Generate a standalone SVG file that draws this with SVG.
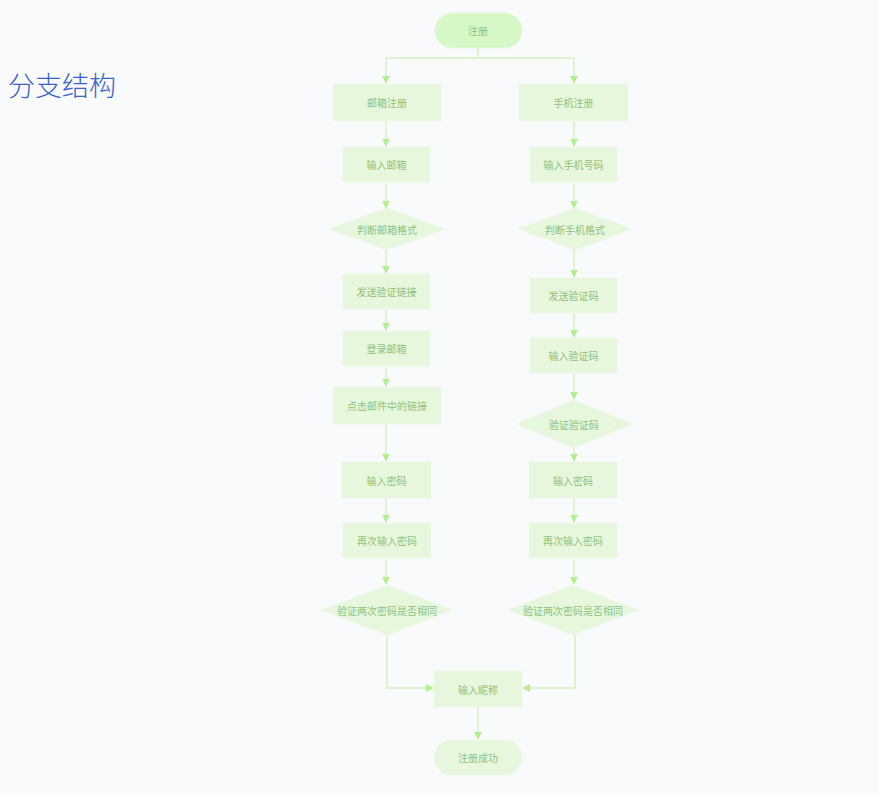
<svg xmlns="http://www.w3.org/2000/svg" width="879" height="793" viewBox="0 0 879 793">
<defs>
<style>
.bg{fill:#f9fafb}
.term{fill:#d6f7c6;stroke:#e6f8dc;stroke-width:1}
.box{fill:#e6f7dd;stroke:#eef9e8;stroke-width:1}
.dia{fill:#e6f7dd;stroke:#eef9e8;stroke-width:1}
.t{font-family:"Noto Sans CJK SC","Noto Sans",sans-serif;font-size:10px;fill:#92c27a;text-anchor:middle;dominant-baseline:central}
.c{fill:none;stroke:#d4f0c4;stroke-width:1.5}
.title{font-family:"Noto Sans CJK SC","Noto Sans",sans-serif;font-size:27px;font-weight:300;fill:#3a63cb}
</style>
<marker id="ah" viewBox="0 0 10 10" refX="9" refY="5" markerWidth="8" markerHeight="8" orient="auto" markerUnits="userSpaceOnUse">
<path d="M0,0 L10,5 L0,10 z" fill="#b4ee90"/>
</marker>
</defs>
<rect class="bg" x="0" y="0" width="879" height="793"/>
<text class="title" x="8" y="96">分支结构</text>

<g id="connectors">
<path class="c" d="M478,48 V58 H386 V83" marker-end="url(#ah)"/>
<path class="c" d="M478,58 H574 V83" marker-end="url(#ah)"/>
<path class="c" d="M386,121 V146" marker-end="url(#ah)"/>
<path class="c" d="M574,121 V146" marker-end="url(#ah)"/>
<path class="c" d="M386,182 V208" marker-end="url(#ah)"/>
<path class="c" d="M574,182 V208" marker-end="url(#ah)"/>
<path class="c" d="M386,250 V273" marker-end="url(#ah)"/>
<path class="c" d="M574,250 V277" marker-end="url(#ah)"/>
<path class="c" d="M386,309 V330" marker-end="url(#ah)"/>
<path class="c" d="M574,313 V337" marker-end="url(#ah)"/>
<path class="c" d="M386,366 V386" marker-end="url(#ah)"/>
<path class="c" d="M574,373 V399" marker-end="url(#ah)"/>
<path class="c" d="M386,424 V461" marker-end="url(#ah)"/>
<path class="c" d="M574,448 V461" marker-end="url(#ah)"/>
<path class="c" d="M386,498 V522" marker-end="url(#ah)"/>
<path class="c" d="M574,498 V522" marker-end="url(#ah)"/>
<path class="c" d="M386,558 V584" marker-end="url(#ah)"/>
<path class="c" d="M574,558 V584" marker-end="url(#ah)"/>
<path class="c" d="M387,635 V688 H433" marker-end="url(#ah)"/>
<path class="c" d="M575,635 V688 H523" marker-end="url(#ah)"/>
<path class="c" d="M478,707 V739" marker-end="url(#ah)"/>
</g>

<g id="n-start"><rect class="term" x="435" y="13" width="87" height="35" rx="17.5"/><text class="t" x="478" y="30.5">注册</text></g>

<g id="n-email-reg"><rect class="box" x="333" y="84" width="108" height="37"/><text class="t" x="387" y="102.5">邮箱注册</text></g>
<g id="n-phone-reg"><rect class="box" x="519" y="84" width="109" height="37"/><text class="t" x="573.5" y="102.5">手机注册</text></g>

<g id="n-input-email"><rect class="box" x="343" y="147" width="87" height="35"/><text class="t" x="386.5" y="164.5">输入邮箱</text></g>
<g id="n-input-phone"><rect class="box" x="530" y="147" width="87" height="35"/><text class="t" x="573.5" y="164.5">输入手机号码</text></g>

<g id="n-check-email"><polygon class="dia" points="387,208 445,229 387,250 329,229"/><text class="t" x="387" y="229">判断邮箱格式</text></g>
<g id="n-check-phone"><polygon class="dia" points="575,208 632,229 575,250 518,229"/><text class="t" x="575" y="229">判断手机格式</text></g>

<g id="n-send-link"><rect class="box" x="343" y="274" width="87" height="35"/><text class="t" x="386.5" y="291.5">发送验证链接</text></g>
<g id="n-send-code"><rect class="box" x="530" y="278" width="87" height="35"/><text class="t" x="573.5" y="295.5">发送验证码</text></g>

<g id="n-login-email"><rect class="box" x="343" y="331" width="87" height="35"/><text class="t" x="386.5" y="348.5">登录邮箱</text></g>
<g id="n-input-code"><rect class="box" x="530" y="338" width="87" height="35"/><text class="t" x="573.5" y="355.5">输入验证码</text></g>

<g id="n-click-link"><rect class="box" x="333" y="387" width="108" height="37"/><text class="t" x="387" y="405.5">点击邮件中的链接</text></g>
<g id="n-verify-code"><polygon class="dia" points="574,400 632,424 574,448 516,424"/><text class="t" x="574" y="424">验证验证码</text></g>

<g id="n-pwd-l"><rect class="box" x="342" y="462" width="89" height="36"/><text class="t" x="386.5" y="480">输入密码</text></g>
<g id="n-pwd-r"><rect class="box" x="529" y="462" width="88" height="36"/><text class="t" x="573" y="480">输入密码</text></g>

<g id="n-pwd2-l"><rect class="box" x="343" y="523" width="88" height="35"/><text class="t" x="387" y="540.5">再次输入密码</text></g>
<g id="n-pwd2-r"><rect class="box" x="529" y="523" width="88" height="35"/><text class="t" x="573" y="540.5">再次输入密码</text></g>

<g id="n-same-l"><polygon class="dia" points="387,585 452,610 387,635 322,610"/><text class="t" x="387" y="610">验证两次密码是否相同</text></g>
<g id="n-same-r"><polygon class="dia" points="573,585 638,610 573,635 508,610"/><text class="t" x="573" y="610">验证两次密码是否相同</text></g>

<g id="n-nickname"><rect class="box" x="434" y="671" width="88" height="36"/><text class="t" x="478" y="689">输入昵称</text></g>
<g id="n-done"><rect class="box" x="434" y="740" width="88" height="35" rx="17.5"/><text class="t" x="478" y="757.5">注册成功</text></g>
</svg>
